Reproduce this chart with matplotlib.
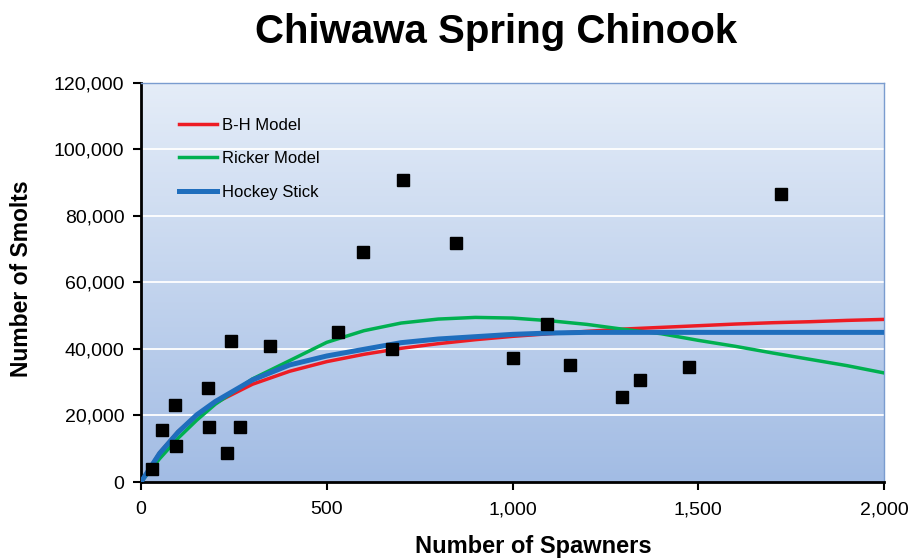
import numpy as np
import matplotlib
matplotlib.use("Agg")
import matplotlib.pyplot as plt
from matplotlib.ticker import FuncFormatter

plt.rcParams['font.family'] = ['Liberation Sans', 'DejaVu Sans']

# observed spawner / smolt pairs
spawners = [30, 57, 92, 94, 179, 183, 231, 242, 267, 347, 530, 598, 675, 705, 848, 1000, 1093, 1156, 1295, 1343, 1474, 1724]
smolts = [4000, 15700, 23200, 10800, 28300, 16500, 8700, 42400, 16500, 40900, 45000, 69200, 40000, 90800, 71900, 37200, 47500, 35300, 25700, 30700, 34600, 86600]

# model curves
curve_x = [0, 50, 100, 150, 200, 300, 400, 500, 600, 700, 800, 900, 1000, 1100, 1200, 1300, 1400, 1500, 1600, 1700, 1800, 1900, 2000]
bh_model = [0, 8800, 15200, 20000, 23800, 29400, 33300, 36200, 38400, 40200, 41600, 42800, 43800, 44600, 45300, 46000, 46500, 47000, 47500, 47900, 48200, 48600, 48900]
ricker_model = [0, 7000, 13200, 18600, 23400, 31000, 36500, 42000, 45500, 47800, 49000, 49500, 49300, 48500, 47400, 45900, 44600, 42600, 40800, 38800, 36900, 35000, 32800]
hockey_stick = [0, 8600, 15000, 20200, 24200, 30700, 35200, 37900, 39900, 41900, 43000, 43700, 44400, 44800, 45000, 45000, 45000, 45000, 45000, 45000, 45000, 45000, 45000]

fig = plt.figure(figsize=(9.11, 5.58), dpi=100)
ax = fig.add_axes([0.1548, 0.1362, 0.8156, 0.7151])

# gradient background
top = np.array([229, 237, 248]) / 255
bottom = np.array([162, 188, 228]) / 255
t = np.linspace(0, 1, 256)[:, None]
grad = (top * (1 - t) + bottom * t)[:, None, :]
ax.imshow(grad, extent=[0, 1, 0, 1], transform=ax.transAxes, aspect='auto', zorder=0)

ax.set_xlim(0, 2000)
ax.set_ylim(0, 120000)
ax.set_yticks(range(0, 120001, 20000))
ax.set_xticks(range(0, 2001, 500))
for y in range(20000, 120001, 20000):
    ax.axhline(y, color='white', lw=1.3, zorder=1)

ax.plot(curve_x, bh_model, color='#ED1C24', lw=2.5, label='B-H Model', zorder=3)
ax.plot(curve_x, ricker_model, color='#00B050', lw=2.5, label='Ricker Model', zorder=3)
ax.plot(curve_x, hockey_stick, color='#1F6EBD', lw=3.6, label='Hockey Stick', zorder=4)
ax.plot(spawners, smolts, ls='none', marker='s', ms=8, color='black', zorder=5)

fmt = FuncFormatter(lambda v, p: f"{int(v):,}")
ax.xaxis.set_major_formatter(fmt)
ax.yaxis.set_major_formatter(fmt)
ax.tick_params(axis='both', direction='out', length=6, width=1.5, labelsize=14, color='black')
ax.tick_params(axis='x', pad=8)
ax.tick_params(axis='y', pad=6)

for side in ['left', 'bottom']:
    ax.spines[side].set_linewidth(2)
    ax.spines[side].set_color('black')
for side in ['top', 'right']:
    ax.spines[side].set_linewidth(1)
    ax.spines[side].set_color('#7A9CCF')

leg = ax.legend(loc='upper left', bbox_to_anchor=(0.031, 0.95), frameon=False, fontsize=12,
                handlelength=2.3, handletextpad=0.3, labelspacing=1.1)

fig.text(0.544, 0.942, 'Chiwawa Spring Chinook', ha='center', va='center', fontsize=29, fontweight='bold')
fig.text(0.5856, 0.021, 'Number of Spawners', ha='center', va='center', fontsize=17, fontweight='bold')
fig.text(0.024, 0.5, 'Number of Smolts', ha='center', va='center', rotation=90, fontsize=16.5, fontweight='bold')

fig.savefig('out.png', dpi=100)
